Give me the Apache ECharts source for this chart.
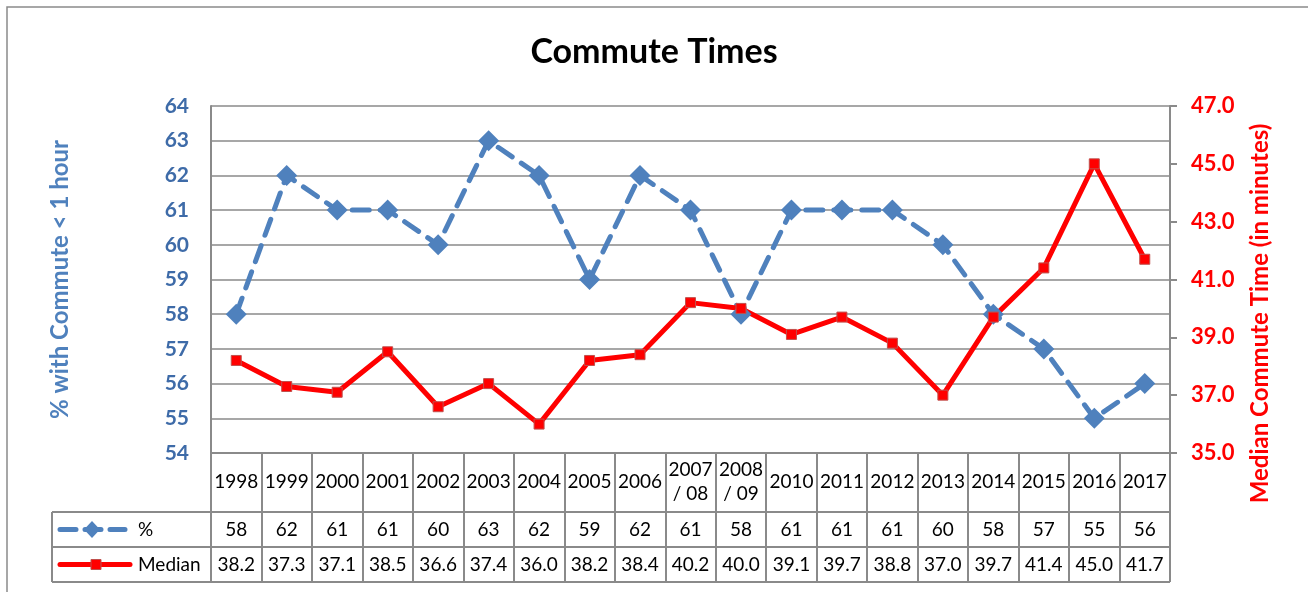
<!DOCTYPE html>
<html>
<head>
<meta charset="utf-8">
<title>Commute Times</title>
<script src="https://cdn.jsdelivr.net/npm/echarts@6/dist/echarts.min.js"></script>
<style>
  html, body { margin: 0; padding: 0; background: #fff; }
  #chart { width: 1308px; height: 592px; }
</style>
</head>
<body>
<div id="chart"></div>
<script>
// data
var years = ['1998', '1999', '2000', '2001', '2002', '2003', '2004', '2005', '2006',
  '2007\n/ 08', '2008\n/ 09', '2010', '2011', '2012', '2013', '2014', '2015', '2016', '2017'];
var pctValues = [58, 62, 61, 61, 60, 63, 62, 59, 62, 61, 58, 61, 61, 61, 60, 58, 57, 55, 56];
var medianValues = [38.2, 37.3, 37.1, 38.5, 36.6, 37.4, 36.0, 38.2, 38.4, 40.2, 40.0, 39.1, 39.7, 38.8, 37.0, 39.7, 41.4, 45.0, 41.7];
var leftRange = [54, 64, 1];
var rightRange = [35, 47, 2];

var FONT = 'Lato, "Open Sans", sans-serif';
var BLUE = '#4F81BD';
var BLUE_TXT = '#3E6BA8';
var RED = '#FF0000';
var GRAY = '#8a8a8a';
var TABLE_FS = 19;

var chart = echarts.init(document.getElementById('chart'));

// table geometry (grid edges)
var gL = 211, gR = 1170, gT = 106, gB = 453;
var row1 = 512, row2 = 547, row3 = 582, tabL = 52;

var tableLines = [row1, row2, row3].map(function (y) {
  return {
    type: 'line', shape: { x1: tabL, y1: y, x2: gR, y2: y },
    style: { stroke: GRAY, lineWidth: 2 }
  };
});

var option = {
  animation: false,
  textStyle: { fontFamily: FONT },
  title: {
    text: 'Commute Times',
    left: 'center',
    top: 30,
    textStyle: { fontSize: 34, fontWeight: 'bold', color: '#000', fontFamily: FONT }
  },
  grid: { left: gL, right: 1308 - gR, top: gT, bottom: 592 - gB },
  xAxis: [{
    type: 'category',
    data: years,
    boundaryGap: true,
    axisLine: { lineStyle: { color: GRAY, width: 2 } },
    axisTick: { show: true, interval: 0, length: row3 - gB, lineStyle: { color: GRAY, width: 2 } },
    axisLabel: {
      interval: 0, color: '#000', fontSize: TABLE_FS, lineHeight: 24,
      verticalAlign: 'middle', margin: 29
    }
  }, {
    type: 'category',
    data: pctValues.map(String),
    position: 'bottom',
    offset: row1 - gB,
    axisLine: { show: false },
    axisTick: { show: false },
    axisLabel: { interval: 0, color: '#000', fontSize: TABLE_FS, verticalAlign: 'middle', margin: 18 }
  }, {
    type: 'category',
    data: medianValues.map(function (v) { return v.toFixed(1); }),
    position: 'bottom',
    offset: row2 - gB,
    axisLine: { show: false },
    axisTick: { show: false },
    axisLabel: { interval: 0, color: '#000', fontSize: TABLE_FS, verticalAlign: 'middle', margin: 18 }
  }],
  yAxis: [{
    type: 'value',
    min: leftRange[0], max: leftRange[1], interval: leftRange[2],
    name: '% with Commute < 1 hour',
    nameLocation: 'middle',
    nameRotate: 90,
    nameGap: 139,
    nameTextStyle: { color: BLUE, fontSize: 24, fontWeight: 'bold', fontFamily: FONT },
    axisLine: { show: true, lineStyle: { color: GRAY, width: 2 } },
    axisTick: { show: false },
    axisLabel: { color: BLUE_TXT, fontSize: 21, fontWeight: 'bold', margin: 22 },
    splitLine: { lineStyle: { color: GRAY, width: 1.5 } }
  }, {
    type: 'value',
    position: 'right',
    min: rightRange[0], max: rightRange[1], interval: rightRange[2],
    name: 'Median Commute Time (in minutes)',
    nameLocation: 'middle',
    nameRotate: 90,
    nameGap: 78,
    nameTextStyle: { color: RED, fontSize: 24, fontWeight: 'bold', fontFamily: FONT, padding: [0, 68, 0, 0] },
    axisLine: { show: true, lineStyle: { color: GRAY, width: 2 } },
    axisTick: { show: true, length: 7, lineStyle: { color: GRAY, width: 2 } },
    axisLabel: {
      color: RED, fontSize: 22, fontWeight: 'bold', margin: 21,
      formatter: function (v) { return v.toFixed(1); }
    },
    splitLine: { show: false }
  }],
  series: [{
    name: '%',
    type: 'line',
    xAxisIndex: 0,
    yAxisIndex: 0,
    data: pctValues,
    symbol: 'diamond',
    symbolSize: 21,
    itemStyle: { color: BLUE },
    lineStyle: { color: BLUE, width: 5, type: [17, 11], cap: 'round' }
  }, {
    name: 'Median',
    type: 'line',
    xAxisIndex: 0,
    yAxisIndex: 1,
    data: medianValues,
    symbol: 'rect',
    symbolSize: 10,
    itemStyle: { color: RED, borderColor: '#C0504D', borderWidth: 1 },
    lineStyle: { color: RED, width: 5 }
  }],
  graphic: [
    {
      type: 'rect', silent: true,
      shape: { x: 7, y: 7, width: 1400, height: 700 },
      style: { fill: 'none', stroke: GRAY, lineWidth: 1.5 }
    },
    {
      type: 'line', shape: { x1: tabL, y1: row1, x2: tabL, y2: row3 },
      style: { stroke: GRAY, lineWidth: 2 }
    },
    {
      type: 'line', shape: { x1: 60, y1: (row1 + row2) / 2, x2: 125, y2: (row1 + row2) / 2 },
      style: { stroke: BLUE, lineWidth: 5, lineDash: [16, 9], lineCap: 'round' }
    },
    {
      type: 'polygon',
      shape: { points: [[92, 521], [100, 529.5], [92, 538], [84, 529.5]] },
      style: { fill: BLUE }
    },
    {
      type: 'text', x: 138, y: (row1 + row2) / 2,
      style: { text: '%', fontSize: TABLE_FS, fill: '#000', fontFamily: FONT, verticalAlign: 'middle' }
    },
    {
      type: 'line', shape: { x1: 60, y1: (row2 + row3) / 2, x2: 130, y2: (row2 + row3) / 2 },
      style: { stroke: RED, lineWidth: 5, lineCap: 'round' }
    },
    {
      type: 'rect', shape: { x: 91, y: (row2 + row3) / 2 - 5, width: 10, height: 10 },
      style: { fill: RED, stroke: '#C0504D', lineWidth: 1 }
    },
    {
      type: 'text', x: 138, y: (row2 + row3) / 2,
      style: { text: 'Median', fontSize: TABLE_FS, fill: '#000', fontFamily: FONT, verticalAlign: 'middle' }
    }
  ].concat(tableLines)
};

chart.setOption(option);
</script>
</body>
</html>
